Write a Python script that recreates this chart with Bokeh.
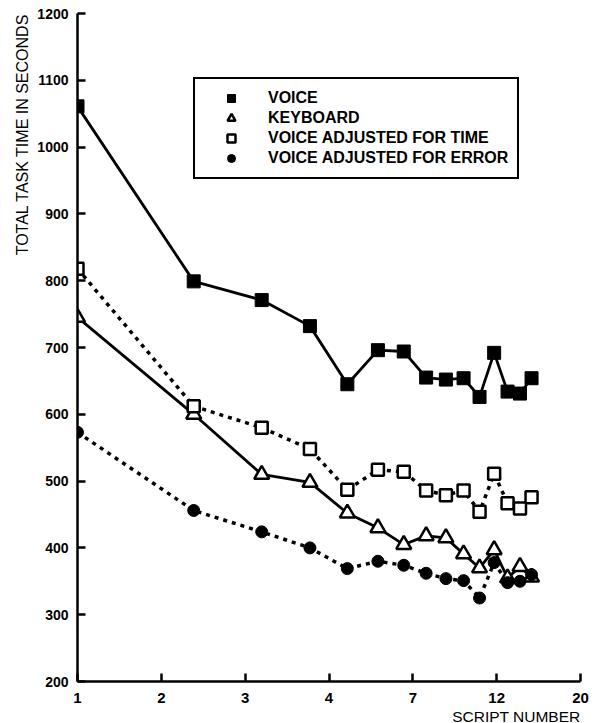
import math
from bokeh.plotting import figure
from bokeh.models import (Range1d, FixedTicker, CustomJSTickFormatter, Legend,
                          LegendItem, Title, ColumnDataSource)
from bokeh.embed import file_html
from bokeh.resources import INLINE

# ---- data ----
scripts = list(range(1, 16))
voice = [1061, 799, 771, 732, 645, 696, 694, 655, 652, 654, 626, 692, 634, 631, 654]
keyboard = [745, 600, 510, 498, 452, 430, 405, 418, 415, 391, 370, 397, 355, 372, 356]
voice_adj_time = [818, 612, 580, 548, 487, 517, 514, 486, 479, 486, 454, 511, 467, 459, 476]
voice_adj_error = [573, 456, 424, 400, 369, 380, 374, 362, 354, 351, 325, 378, 348, 350, 360]

x_tick_values = [math.exp(k / 2) for k in range(7)]
x_tick_labels = ["1", "2", "3", "4", "7", "12", "20"]
y_ticks = list(range(200, 1201, 100))

FONT = "Liberation Sans"

p = figure(x_axis_type="log", x_range=Range1d(1, math.exp(3)), y_range=Range1d(200, 1200),
           frame_width=503, frame_height=668, output_backend="svg", toolbar_location=None,
           title=None, min_border_left=77, min_border_right=10, min_border_top=13,
           min_border_bottom=0, background_fill_color="white", border_fill_color="white",
           outline_line_color=None)
p.grid.visible = False

src = ColumnDataSource(dict(x=scripts, voice=voice, kb=keyboard, adjt=voice_adj_time, adje=voice_adj_error))

# lines
p.line("x", "voice", source=src, line_color="black", line_width=2.8)
p.line("x", "kb", source=src, line_color="black", line_width=2.8)
p.line("x", "adjt", source=src, line_color="black", line_width=3.5, line_dash="4 5")
p.line("x", "adje", source=src, line_color="black", line_width=3.5, line_dash="4 5")

# markers
r_voice = p.scatter("x", "voice", source=src, marker="square", size=13,
                    fill_color="black", line_color="black")
r_kb = p.scatter("x", "kb", source=src, marker="triangle", size=15,
                 fill_color="white", line_color="black", line_width=2.5)
r_adjt = p.scatter("x", "adjt", source=src, marker="square", size=12,
                   fill_color="white", line_color="black", line_width=2.5)
r_adje = p.scatter("x", "adje", source=src, marker="circle", size=12,
                   fill_color="black", line_color="black")

# axes
xa = p.xaxis[0]
xa.ticker = FixedTicker(ticks=x_tick_values, minor_ticks=[])
xa.formatter = CustomJSTickFormatter(args=dict(labels=x_tick_labels), code="return labels[index];")
ya = p.yaxis[0]
ya.ticker = FixedTicker(ticks=y_ticks, minor_ticks=[])

for ax in (xa, ya):
    ax.axis_line_width = 2.5
    ax.axis_line_color = "black"
    ax.major_tick_line_width = 2.5
    ax.major_tick_line_color = "black"
    ax.major_tick_in = 8
    ax.major_tick_out = 0
    ax.minor_tick_line_color = None
    ax.major_label_text_font = FONT
    ax.major_label_text_font_style = "bold"
    ax.major_label_text_color = "black"
ya.major_label_text_font_size = "14px"
ya.major_label_standoff = 9
xa.major_label_text_font_size = "15px"
xa.major_label_standoff = 11

p.add_layout(Title(text="TOTAL TASK TIME IN SECONDS", align="right", text_font=FONT,
                   text_font_size="16px", text_font_style="normal", text_color="black",
                   standoff=8, offset=0), "left")
p.add_layout(Title(text="SCRIPT NUMBER", align="right", text_font=FONT,
                   text_font_size="15.5px", text_font_style="normal", text_color="black",
                   standoff=0, offset=0), "below")

legend = Legend(items=[
    LegendItem(label="VOICE", renderers=[r_voice]),
    LegendItem(label="KEYBOARD", renderers=[r_kb]),
    LegendItem(label="VOICE ADJUSTED FOR TIME", renderers=[r_adjt]),
    LegendItem(label="VOICE ADJUSTED FOR ERROR", renderers=[r_adje]),
], location=(116, 502), border_line_color="black", border_line_width=2.5,
    border_line_alpha=1.0, padding=9, spacing=0, glyph_width=54, glyph_height=20,
    label_height=20, label_standoff=10, label_text_font=FONT,
    label_text_font_size="16px", label_text_font_style="bold", label_text_color="black",
    background_fill_color="white", background_fill_alpha=1.0, margin=0)
p.add_layout(legend, "center")

open("out.html", "w").write(file_html(p, INLINE))
